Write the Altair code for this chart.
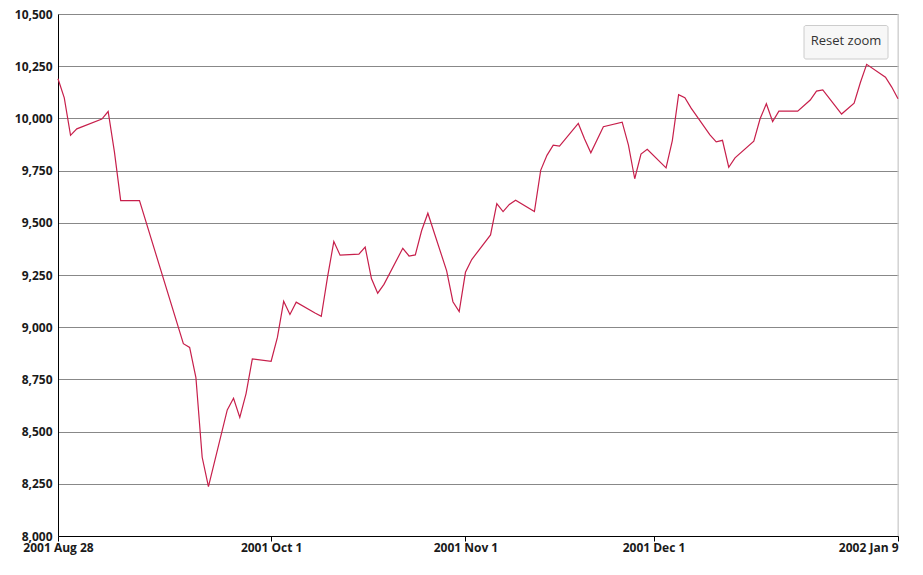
import altair as alt
import pandas as pd

dates = ["2001-08-28","2001-08-29","2001-08-30","2001-08-31","2001-09-04","2001-09-05","2001-09-06","2001-09-07","2001-09-10",
         "2001-09-17","2001-09-18","2001-09-19","2001-09-20","2001-09-21","2001-09-24","2001-09-25","2001-09-26","2001-09-27","2001-09-28",
         "2001-10-01","2001-10-02","2001-10-03","2001-10-04","2001-10-05","2001-10-08","2001-10-09","2001-10-10","2001-10-11","2001-10-12",
         "2001-10-15","2001-10-16","2001-10-17","2001-10-18","2001-10-19","2001-10-22","2001-10-23","2001-10-24","2001-10-25","2001-10-26",
         "2001-10-29","2001-10-30","2001-10-31","2001-11-01","2001-11-02","2001-11-05","2001-11-06","2001-11-07","2001-11-08","2001-11-09",
         "2001-11-12","2001-11-13","2001-11-14","2001-11-15","2001-11-16","2001-11-19","2001-11-20","2001-11-21","2001-11-23",
         "2001-11-26","2001-11-27","2001-11-28","2001-11-29","2001-11-30","2001-12-03","2001-12-04","2001-12-05","2001-12-06","2001-12-07",
         "2001-12-10","2001-12-11","2001-12-12","2001-12-13","2001-12-14","2001-12-17","2001-12-18","2001-12-19","2001-12-20","2001-12-21",
         "2001-12-24","2001-12-26","2001-12-27","2001-12-28","2001-12-31","2002-01-02","2002-01-03","2002-01-04","2002-01-07","2002-01-08",
         "2002-01-09"]

values = [10190, 10098, 9919, 9950, 9997, 10033, 9840, 9606, 9606,
          8921, 8903, 8759, 8377, 8236, 8604, 8660, 8568, 8682, 8848,
          8837, 8951, 9124, 9061, 9120, 9068, 9052, 9241, 9410, 9345,
          9350, 9384, 9233, 9163, 9205, 9378, 9341, 9346, 9462, 9546,
          9270, 9122, 9075, 9263, 9324, 9442, 9592, 9554, 9588, 9608,
          9554, 9751, 9823, 9872, 9867, 9976, 9901, 9835, 9960,
          9982, 9872, 9711, 9829, 9852, 9763, 9894, 10114, 10099, 10049,
          9921, 9888, 9895, 9766, 9811, 9891, 9998, 10070, 9985, 10035,
          10035, 10088, 10131, 10137, 10021, 10073, 10172, 10259, 10197, 10150,
          10094]

y_ticks = [8000, 8250, 8500, 8750, 9000, 9250, 9500, 9750, 10000, 10250, 10500]
x_tick_dates = [(2001, 8, 28), (2001, 10, 1), (2001, 11, 1), (2001, 12, 1), (2002, 1, 9)]
month_names = ["Jan", "Feb", "Mar", "Apr", "May", "Jun", "Jul", "Aug", "Sep", "Oct", "Nov", "Dec"]

df = pd.DataFrame({"date": dates, "value": values})

def dt(y, m, d):
    return alt.DateTime(year=y, month=m, date=d, utc=True)

FONT = "Open Sans"
W, H = 840, 522

months_js = "[" + ",".join("'%s'" % m for m in month_names) + "]"
x_label_expr = ("utcyear(datum.value) + ' ' + " + months_js +
                "[utcmonth(datum.value)] + ' ' + utcdate(datum.value)")
y_label_expr = ("datum.value >= 1000 ? floor(datum.value / 1000) + ',' + "
                "slice('000' + (datum.value % 1000), -3) : '' + datum.value")

x_enc = alt.X(
    "date:T",
    scale=alt.Scale(type="utc", domain=[dt(2001, 8, 28), dt(2002, 1, 9)]),
    axis=alt.Axis(
        title=None,
        values=[dt(*t) for t in x_tick_dates],
        labelExpr=x_label_expr,
        grid=False,
        domainColor="#000000",
        domainWidth=1,
        tickColor="#000000",
        tickSize=5,
        labelPadding=1,
        labelFont=FONT,
        labelFontSize=12,
        labelFontWeight="bold",
        labelColor="#1a1a1a",
        labelAlign=alt.ExprRef("datum.index == 1 ? 'right' : 'center'"),
        labelOverlap=False,
    ),
)

y_enc = alt.Y(
    "value:Q",
    scale=alt.Scale(domain=[8000, 10500], nice=False, zero=False),
    axis=alt.Axis(
        title=None,
        values=y_ticks,
        labelExpr=y_label_expr,
        grid=True,
        gridColor="#888888",
        gridOpacity=1,
        gridWidth=1,
        ticks=False,
        tickSize=0,
        domainColor="#000000",
        domainWidth=1,
        labelPadding=6,
        labelFont=FONT,
        labelFontSize=12,
        labelFontWeight="bold",
        labelColor="#1a1a1a",
    ),
)

line = alt.Chart(df).mark_line(color="#C71F4B", strokeWidth=1.2).encode(x=x_enc, y=y_enc)

btn_df = pd.DataFrame({"label": ["Reset zoom"]})
border = alt.Chart(btn_df).mark_rule(color="#cccccc", strokeWidth=1).encode(
    x=alt.value(W), y=alt.value(0), y2=alt.value(H)
)
button = alt.Chart(btn_df).mark_rect(
    fill="#f7f7f7", stroke="#cccccc", strokeWidth=1, cornerRadius=2
).encode(x=alt.value(746), x2=alt.value(830), y=alt.value(11.5), y2=alt.value(45))
button_text = alt.Chart(btn_df).mark_text(
    font=FONT, fontSize=13, color="#333333", align="center", baseline="middle"
).encode(x=alt.value(788), y=alt.value(27), text="label:N")

chart = alt.layer(border, line, button, button_text).properties(
    width=W,
    height=H,
    autosize="none",
    padding={"left": 50, "top": 6, "right": 9, "bottom": 27},
).configure_view(stroke=None).configure(background="#ffffff")

chart.save("out.html", embed_options={"renderer": "svg", "actions": False})
